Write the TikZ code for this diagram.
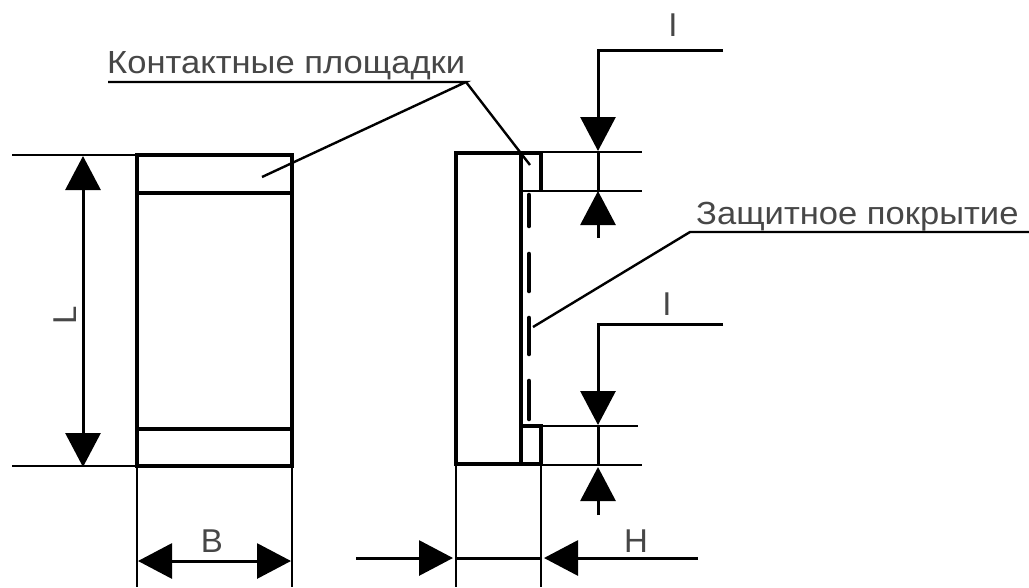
\documentclass[tikz,border=0pt]{standalone}
\usepackage{fontspec}
\setmainfont{Liberation Sans}
\newfontfamily\spaced[FakeStretch=1.08]{Liberation Sans}
\usetikzlibrary{arrows.meta}
\tikzset{
  heavy/.style={line width=4pt,line join=miter,line cap=butt},
  thin ext/.style={line width=2.4pt},
  dim/.style={line width=3pt,-{Triangle[length=34pt,width=35pt,inset=0pt]}},
  dimline/.style={line width=3pt},
  lead/.style={line width=2.4pt},
  dashseg/.style={line width=4.6pt,line cap=round},
  lab/.style={inner sep=0pt,text=black!72,font=\spaced\fontsize{32}{34}\selectfont},
  letter/.style={inner sep=0pt,font=\fontsize{33}{34}\selectfont,text=black!72}
}
\begin{document}
\begin{tikzpicture}[x=1pt,y=-1pt]
\useasboundingbox[fill=white] (0,0) rectangle (1029,587);
% left view
\draw[heavy] (137,155) rectangle (292,466);
\draw[heavy] (137,193) -- (292,193);
\draw[heavy] (137,429) -- (292,429);
\draw[thin ext] (12,155) -- (137,155);
\draw[thin ext] (12,466) -- (137,466);
\draw[thin ext] (137,466) -- (137,587);
\draw[thin ext] (292,466) -- (292,587);
% L
\coordinate (Lmid) at (83,310);
\coordinate (Ltop) at (83,156);
\coordinate (Lbot) at (83,467);
\draw[dim] (Lmid) -- (Ltop);
\draw[dim] (Lmid) -- (Lbot);
\node[letter,rotate=90] (lL) at (65,315) {L};
% B
\coordinate (Bmid) at (214,561);
\coordinate (Bl) at (138,561);
\coordinate (Br) at (291,561);
\draw[dim] (Bmid) -- (Bl);
\draw[dim] (Bmid) -- (Br);
\node[letter] (lB) at (212,541) {B};
% right view
\draw[heavy] (521,464) -- (456,464) -- (456,153) -- (521,153) -- (521,464);
\draw[heavy] (521,153) -- (541,153) -- (541,190);
\draw[heavy] (521,426) -- (541,426) -- (541,464) -- (521,464);
\draw[thin ext] (541,152) -- (642,152);
\draw[thin ext] (521,191) -- (642,191);
\draw[thin ext] (541,426) -- (638,426);
\draw[thin ext] (541,465) -- (642,465);
\draw[thin ext] (456,464) -- (456,587);
\draw[thin ext] (541,464) -- (541,587);
\foreach \a/\b in {195/226,254/291,318/354,381/419}
  \draw[dashseg] (529,\a) -- (529,\b);
% section I top
\coordinate (i1a) at (723,50);
\coordinate (i1b) at (598,50);
\coordinate (i1c) at (598,151);
\draw[dim,line join=miter] (i1a) -- (i1b) -- (i1c);
\draw[dimline] (598,152) -- (598,191);
\draw[dim] (598,238) -- (598,191);
\node[letter] (lI1) at (673,25) {I};
% section I bottom
\coordinate (i2a) at (723,324);
\coordinate (i2b) at (598,324);
\coordinate (i2c) at (598,425);
\draw[dim,line join=miter] (i2a) -- (i2b) -- (i2c);
\draw[dimline] (598,426) -- (598,465);
\draw[dim] (598,515) -- (598,467);
\node[letter] (lI2) at (667,304) {I};
% H
\coordinate (Ha) at (356,558);
\coordinate (Hb) at (453,558);
\coordinate (Hc) at (698,558);
\coordinate (Hd) at (544,558);
\draw[dim] (Ha) -- (Hb);
\draw[dim] (Hc) -- (Hd);
\draw[dimline] (456,558) -- (541,558);
\node[letter] (lH) at (636,541) {H};
% leaders
\node[lab,anchor=base west] (t1) at (107,73) {Контактные площадки};
\coordinate (k0) at (108,82);
\coordinate (k1) at (466,82);
\coordinate (k2) at (262,177);
\coordinate (k3) at (530,165);
\draw[lead] (k0) -- (k1) -- (k2);
\draw[lead] (k1) -- (k3);
\node[lab,anchor=base west] (t2) at (696,224) {Защитное покрытие};
\coordinate (z0) at (1029,232);
\coordinate (z1) at (690,232);
\coordinate (z2) at (533,327);
\draw[lead] (z0) -- (z1) -- (z2);
\end{tikzpicture}
\end{document}
